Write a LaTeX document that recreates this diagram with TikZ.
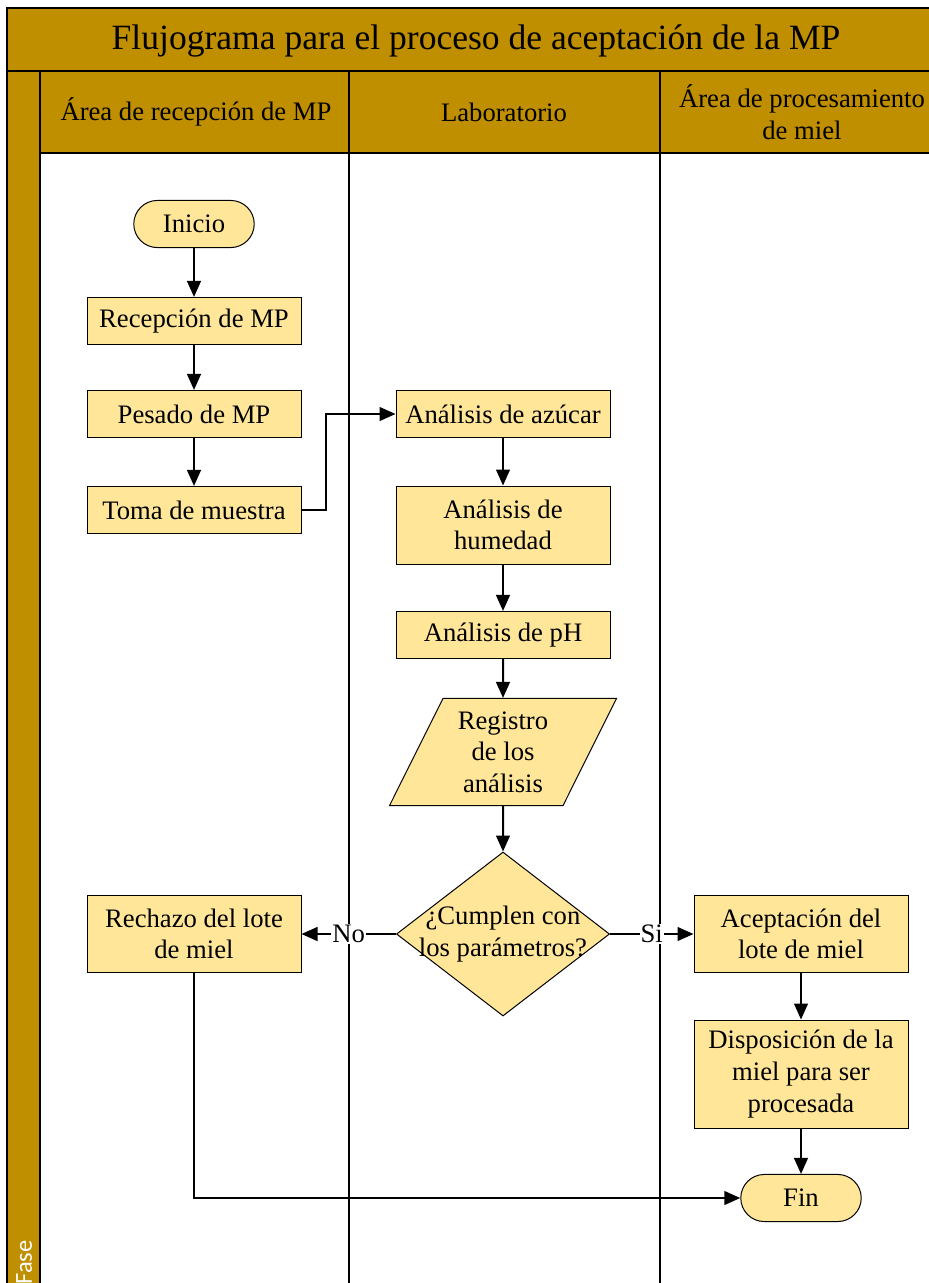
\documentclass[tikz,border=0pt]{standalone}
\usepackage{fontspec}
\setmainfont{Liberation Serif}
\newfontfamily\fasefont{Carlito}
\usetikzlibrary{arrows.meta,shapes.geometric}
\definecolor{oro}{HTML}{BF8F00}
\definecolor{crema}{HTML}{FFE699}

\begin{document}
\begin{tikzpicture}[x=0.45pt, y=-0.45pt, >={Triangle[length=7.2pt,width=6.2pt]},
  marco/.style={draw=black, line width=0.6pt},
  caja/.style={draw, fill=crema, line width=0.45pt, minimum width=96.3pt, minimum height=21.2pt,
    align=center, inner sep=1pt, font=\fontsize{12}{14.2}\selectfont},
  terminal/.style={caja, rounded corners=10.6pt, minimum width=54.2pt},
  datos/.style={caja, trapezium, trapezium left angle=63.6, trapezium right angle=116.4,
    trapezium stretches=true, minimum width=102.2pt, minimum height=48.2pt, inner sep=0pt},
  decision/.style={caja, diamond, minimum width=95.9pt, minimum height=73.8pt, inner sep=0pt},
  texto/.style={align=center, inner sep=0pt, font=\fontsize{12}{14.2}\selectfont},
  flujo/.style={->, line width=0.9pt},
  etiqueta/.style={fill=white, inner sep=0.5pt, font=\fontsize{12}{14.2}\selectfont}]
  \useasboundingbox (0,0) rectangle (928,1283);

  % marco y carriles
  \draw[marco, fill=oro] (7,8) rectangle (935,71);
  \draw[marco, fill=oro] (7,71) rectangle (40,1290);
  \draw[marco, fill=oro] (40,71) rectangle (935,153);
  \draw[marco] (349,71) -- (349,1290) (660,71) -- (660,1290);

  \node[texto, font=\fontsize{16}{19}\selectfont] (titulo) at (476,41) {Flujograma para el proceso de aceptación de la MP};
  \node[texto] (recepcion) at (196,112) {Área de recepción de MP};
  \node[texto] (laboratorio) at (504,112) {Laboratorio};
  \node[texto] (procesamiento) at (802,112) {Área de procesamiento\\de miel};
  \node[rotate=90, anchor=west, inner sep=0pt, text=white, font=\fasefont\fontsize{11}{13}\selectfont] (fase) at (24,1285) {Fase};

  % nodos
  \node[terminal] (inicio) at (194,224) {Inicio};
  \node[caja] (recmp) at (194,321) {Recepción de MP};
  \node[caja] (pesado) at (194,414) {Pesado de MP};
  \node[caja] (toma) at (194,510) {Toma de muestra};
  \node[caja] (azucar) at (503,414) {Análisis de azúcar};
  \node[caja, minimum height=35.1pt] (humedad) at (503,525) {Análisis de\\humedad};
  \node[caja] (ph) at (503,635) {Análisis de pH};
  \node[datos] (registro) at (503,752) {Registro\\de los\\análisis};
  \node[decision] (cumple) at (503,934) {};
  \node[texto] (pregunta) at (cumple) {¿Cumplen con\\los parámetros?};
  \node[caja, minimum height=34.7pt] (rechazo) at (194,934) {Rechazo del lote\\de miel};
  \node[caja, minimum height=34.7pt] (aceptacion) at (801,934) {Aceptación del\\lote de miel};
  \node[caja, minimum height=48.6pt] (disposicion) at (801,1074) {Disposición de la\\miel para ser\\procesada};
  \node[terminal] (fin) at (801,1198) {Fin};

  % conectores
  \draw[flujo] (inicio) -- (recmp);
  \draw[flujo] (recmp) -- (pesado);
  \draw[flujo] (pesado) -- (toma);
  \draw[flujo] (toma.east) -- ++(24,0) |- (azucar.west);
  \draw[flujo] (azucar) -- (humedad);
  \draw[flujo] (humedad) -- (ph);
  \draw[flujo] (ph) -- (registro);
  \draw[flujo] (registro) -- (cumple);
  \draw[flujo] (cumple.west) -- (rechazo.east) node[etiqueta, midway] {No};
  \draw[flujo] (cumple.east) -- (aceptacion.west) node[etiqueta, midway] {Si};
  \draw[flujo] (aceptacion) -- (disposicion);
  \draw[flujo] (disposicion) -- (fin);
  \draw[flujo] (rechazo.south) |- (fin.west);
\end{tikzpicture}
\end{document}
